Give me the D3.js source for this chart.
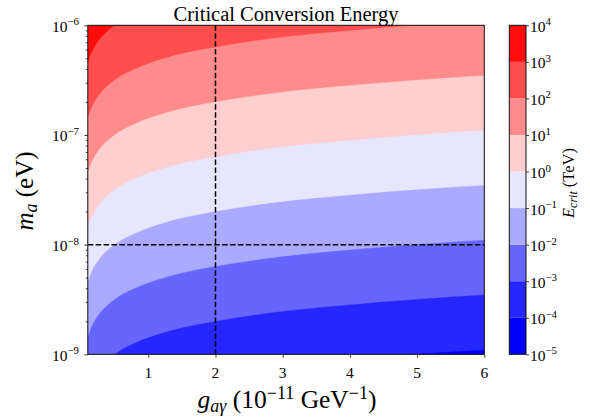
<!DOCTYPE html>
<html>
<head>
<meta charset="utf-8">
<script src="https://cdn.jsdelivr.net/npm/d3@7"></script>
<style>
  body { margin: 0; background: #fff; }
  text { font-family: "P052", "URW Palladio L", "Palatino Linotype", "Liberation Serif", serif; fill: #000; }
</style>
</head>
<body>
<svg id="chart" width="590" height="419"></svg>
<script>
// Coupling grid (10^-11 GeV^-1) at which each contour edge is sampled
const gGrid = [0.1, 0.15, 0.2, 0.3, 0.4, 0.6, 0.8, 1, 1.5, 2, 3, 4, 5, 6];

// log10(m_a / eV) of each contour edge E_crit = 10^k TeV, sampled on gGrid
const edgeE3  = [-6.35, -6.26, -6.20, -6.11, -6.05, -5.96, -5.90, -5.85, -5.76, -5.70, -5.61, -5.55, -5.50, -5.46];
const edgeE2  = [-6.85, -6.76, -6.70, -6.61, -6.55, -6.46, -6.40, -6.35, -6.26, -6.20, -6.11, -6.05, -6.00, -5.96];
const edgeE1  = [-7.35, -7.26, -7.20, -7.11, -7.05, -6.96, -6.90, -6.85, -6.76, -6.70, -6.61, -6.55, -6.50, -6.46];
const edgeE0  = [-7.85, -7.76, -7.70, -7.61, -7.55, -7.46, -7.40, -7.35, -7.26, -7.20, -7.11, -7.05, -7.00, -6.96];
const edgeEm1 = [-8.35, -8.26, -8.20, -8.11, -8.05, -7.96, -7.90, -7.85, -7.76, -7.70, -7.61, -7.55, -7.50, -7.46];
const edgeEm2 = [-8.85, -8.76, -8.70, -8.61, -8.55, -8.46, -8.40, -8.35, -8.26, -8.20, -8.11, -8.05, -8.00, -7.96];
const edgeEm3 = [-9.35, -9.26, -9.20, -9.11, -9.05, -8.96, -8.90, -8.85, -8.76, -8.70, -8.61, -8.55, -8.50, -8.46];
const edgeEm4 = [-9.85, -9.76, -9.70, -9.61, -9.55, -9.46, -9.40, -9.35, -9.26, -9.20, -9.11, -9.05, -9.00, -8.96];

// Contour levels (TeV), lowest to highest
const levels = [1e-5, 1e-4, 1e-3, 1e-2, 1e-1, 1e0, 1e1, 1e2, 1e3, 1e4];
// Fill colour of each band between consecutive levels (blue-white-red)
const bandColors = ["#0000ff", "#2626ff", "#6666ff", "#aaaaff", "#e6e6ff",
                    "#ffcece", "#ff8c8c", "#ff4e4e", "#ff0c0c"];

// Edge arrays paired with their level exponent, top to bottom
const edges = [
  { exp: 3, m: edgeE3 }, { exp: 2, m: edgeE2 }, { exp: 1, m: edgeE1 }, { exp: 0, m: edgeE0 },
  { exp: -1, m: edgeEm1 }, { exp: -2, m: edgeEm2 }, { exp: -3, m: edgeEm3 }, { exp: -4, m: edgeEm4 }
];

// Tick labels
const xTicks = [1, 2, 3, 4, 5, 6];
const yTickExps = [-9, -8, -7, -6];
const cbTickExps = [-5, -4, -3, -2, -1, 0, 1, 2, 3, 4];

// Reference lines
const gRef = 2;
const mRef = 1e-8;

const svg = d3.select("#chart");
const plot = { left: 87.8, right: 484.3, top: 25.3, bottom: 354.3 };
const cb = { left: 509.3, right: 526, top: 25.3, bottom: 354.3 };

const x = d3.scaleLinear().domain([0.1, 6]).range([plot.left, plot.right]);
const y = d3.scaleLog().domain([1e-9, 1e-6]).range([plot.bottom, plot.top]);

svg.append("defs").append("clipPath").attr("id", "plotClip")
  .append("rect")
  .attr("x", plot.left).attr("y", plot.top)
  .attr("width", plot.right - plot.left).attr("height", plot.bottom - plot.top);

const field = svg.append("g").attr("clip-path", "url(#plotClip)");

// Highest band fills the whole panel; lower bands are painted over it
field.append("rect")
  .attr("x", plot.left).attr("y", plot.top)
  .attr("width", plot.right - plot.left).attr("height", plot.bottom - plot.top)
  .attr("fill", bandColors[bandColors.length - 1]);

edges.forEach(ed => {
  const pts = gGrid.map((g, i) => [g, Math.pow(10, ed.m[i])]);
  const area = d3.area()
    .x(d => x(d[0]))
    .y0(plot.bottom + 20)
    .y1(d => y(d[1]))
    .curve(d3.curveMonotoneX);
  field.append("path")
    .datum(pts)
    .attr("d", area)
    .attr("fill", bandColors[ed.exp + 4])
    .attr("stroke", bandColors[ed.exp + 4])
    .attr("stroke-width", 0.4);
});

// Dashed reference lines
const dash = "5.5,2.4";
field.append("line")
  .attr("x1", x(gRef)).attr("x2", x(gRef))
  .attr("y1", plot.top).attr("y2", plot.bottom)
  .attr("stroke", "#000").attr("stroke-width", 1.5).attr("stroke-dasharray", dash);
field.append("line")
  .attr("x1", plot.left).attr("x2", plot.right)
  .attr("y1", y(mRef)).attr("y2", y(mRef))
  .attr("stroke", "#000").attr("stroke-width", 1.5).attr("stroke-dasharray", dash);

// Frame
svg.append("rect")
  .attr("x", plot.left).attr("y", plot.top)
  .attr("width", plot.right - plot.left).attr("height", plot.bottom - plot.top)
  .attr("fill", "none").attr("stroke", "#111").attr("stroke-width", 1);

// Axes
const xAxis = svg.append("g")
  .attr("transform", `translate(0,${plot.bottom})`)
  .call(d3.axisBottom(x).tickValues(xTicks).tickSize(3.5).tickFormat(""));
const yMajor = yTickExps.map(e => Math.pow(10, e));
const yMinor = [];
[-9, -8, -7].forEach(e => { for (let j = 2; j <= 9; j++) yMinor.push(j * Math.pow(10, e)); });
const yAxis = svg.append("g")
  .attr("transform", `translate(${plot.left},0)`)
  .call(d3.axisLeft(y).tickValues(yMajor).tickSize(3.5).tickFormat(""));
const yAxisMinor = svg.append("g")
  .attr("transform", `translate(${plot.left},0)`)
  .call(d3.axisLeft(y).tickValues(yMinor).tickSize(2).tickFormat(""));
[xAxis, yAxis, yAxisMinor].forEach(a => {
  a.select(".domain").remove();
  a.selectAll(".tick line").attr("stroke", "#111").attr("stroke-width", 0.8);
});

function powerLabel(sel, e, size) {
  sel.append("tspan").text("10");
  sel.append("tspan")
    .attr("dy", -size * 0.42)
    .attr("font-size", size * 0.7)
    .text(e < 0 ? "\u2212" + (-e) : String(e));
}

const tickSize = 15.5;
xTicks.forEach(t => {
  svg.append("text")
    .attr("x", x(t)).attr("y", 377.5)
    .attr("text-anchor", "middle")
    .attr("font-size", tickSize)
    .text(t);
});
yTickExps.forEach(e => {
  const t = svg.append("text")
    .attr("x", 79).attr("y", y(Math.pow(10, e)) + 6.5)
    .attr("text-anchor", "end")
    .attr("font-size", tickSize);
  powerLabel(t, e, tickSize);
});

// Title
svg.append("text")
  .attr("x", (plot.left + plot.right) / 2).attr("y", 20.5)
  .attr("text-anchor", "middle").attr("font-size", 20.5)
  .text("Critical Conversion Energy");

// Axis labels
const xl = svg.append("text")
  .attr("x", 287).attr("y", 408)
  .attr("text-anchor", "middle").attr("font-size", 25.5);
xl.append("tspan").attr("font-style", "italic").text("g");
xl.append("tspan").attr("font-style", "italic").attr("font-size", 18).attr("dy", 4).text("a\u03b3");
xl.append("tspan").attr("dy", -4).text(" (10");
xl.append("tspan").attr("font-size", 18).attr("dy", -9.5).text("\u221211");
xl.append("tspan").attr("dy", 9.5).text(" GeV");
xl.append("tspan").attr("font-size", 18).attr("dy", -9.5).text("\u22121");
xl.append("tspan").attr("dy", 9.5).text(")");

const yl = svg.append("text")
  .attr("transform", "translate(33,191) rotate(-90)")
  .attr("text-anchor", "middle").attr("font-size", 25);
yl.append("tspan").attr("font-style", "italic").text("m");
yl.append("tspan").attr("font-style", "italic").attr("font-size", 18).attr("dy", 4).text("a");
yl.append("tspan").attr("dy", -4).text(" (eV)");

// Colour bar
const cy = d3.scaleLog().domain([1e-5, 1e4]).range([cb.bottom, cb.top]);
const cbg = svg.append("g");
d3.range(levels.length - 1).forEach(i => {
  cbg.append("rect")
    .attr("x", cb.left).attr("width", cb.right - cb.left)
    .attr("y", cy(levels[i + 1])).attr("height", cy(levels[i]) - cy(levels[i + 1]))
    .attr("fill", bandColors[i]);
});
cbg.append("rect")
  .attr("x", cb.left).attr("y", cb.top)
  .attr("width", cb.right - cb.left).attr("height", cb.bottom - cb.top)
  .attr("fill", "none").attr("stroke", "#111").attr("stroke-width", 1);
const cbAxis = svg.append("g")
  .attr("transform", `translate(${cb.right},0)`)
  .call(d3.axisRight(cy).tickValues(cbTickExps.map(e => Math.pow(10, e))).tickSize(3).tickFormat(""));
cbAxis.select(".domain").remove();
cbAxis.selectAll(".tick line").attr("stroke", "#111").attr("stroke-width", 0.8);
cbTickExps.forEach(e => {
  const t = svg.append("text")
    .attr("x", 530).attr("y", cy(Math.pow(10, e)) + 6.5)
    .attr("font-size", tickSize);
  powerLabel(t, e, tickSize);
});

const cl = svg.append("text")
  .attr("transform", "translate(574,183) rotate(-90)")
  .attr("text-anchor", "middle").attr("font-size", 16.5);
cl.append("tspan").attr("font-style", "italic").text("E");
cl.append("tspan").attr("font-style", "italic").attr("font-size", 12).attr("dy", 3).text("crit");
cl.append("tspan").attr("dy", -3).text(" (TeV)");
</script>
</body>
</html>
